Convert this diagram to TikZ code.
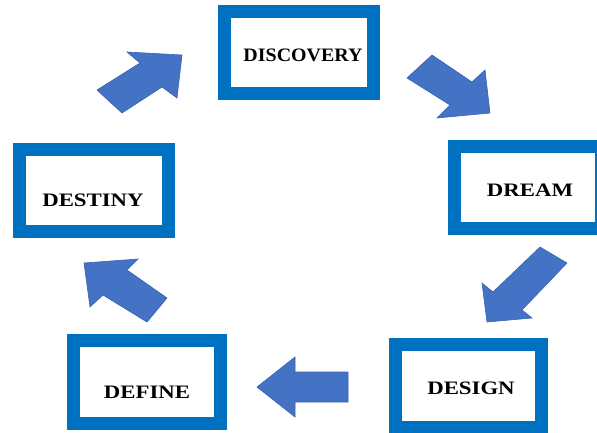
\documentclass[tikz,border=0pt]{standalone}
\usepackage{fontspec}
\usepackage{graphicx}
\setmainfont{Liberation Serif}
\definecolor{boxblue}{HTML}{0070C0}
\definecolor{arrowfill}{HTML}{4472C4}
\definecolor{arrowedge}{HTML}{3A62AE}
\begin{document}
\begin{tikzpicture}[x=1pt,y=-1pt,
  box/.style={draw=boxblue, line width=13pt, fill=white, inner sep=0pt},
  lbl/.style={inner sep=0pt, text=black, font=\fontsize{19}{21}\selectfont\bfseries},
  blockarrow/.style={fill=arrowfill, draw=arrowedge, line width=0.6pt, line join=miter}]
\useasboundingbox (0,0) rectangle (597,432);
\clip (0,0) rectangle (597,432);
% boxes
\node[box, minimum width=149pt, minimum height=82pt] (disc) at (299,52.5) {};
\node[box, minimum width=147pt, minimum height=82pt] (dream) at (528,187.5) {};
\node[box, minimum width=146pt, minimum height=83pt] (design) at (468.5,386) {};
\node[box, minimum width=147pt, minimum height=83pt] (define) at (147,382) {};
\node[box, minimum width=149pt, minimum height=82pt] (dest) at (94,190.5) {};
% labels
\node[lbl] (tdisc) at (303,55) {\scalebox{1.05}[1]{DISCOVERY}};
\node[lbl] (tdream) at (530,190) {\scalebox{1.2}[1]{DREAM}};
\node[lbl] (tdesign) at (471,388) {\scalebox{1.2}[1]{DESIGN}};
\node[lbl] (tdefine) at (147,392) {\scalebox{1.2}[1]{DEFINE}};
\node[lbl] (tdest) at (93,200) {\scalebox{1.2}[1]{DESTINY}};
% block arrows
\draw[blockarrow] (97,90) -- (140,63) -- (127,52) -- (182,55) -- (177,98) -- (162,87) -- (122,113) -- cycle;
\draw[blockarrow] (432,55) -- (472,82) -- (485,70) -- (490,113) -- (437,118) -- (450,105) -- (407,78) -- cycle;
\draw[blockarrow] (540,247) -- (567,263) -- (522,310) -- (532,318) -- (487,322) -- (482,283) -- (493,292) -- cycle;
\draw[blockarrow] (257,387) -- (295,357) -- (295,372) -- (348,372) -- (348,402) -- (295,402) -- (295,417) -- cycle;
\draw[blockarrow] (84,263) -- (138,259) -- (127,270) -- (167,298) -- (147,322) -- (103,295) -- (90,307) -- cycle;
\end{tikzpicture}
\end{document}
